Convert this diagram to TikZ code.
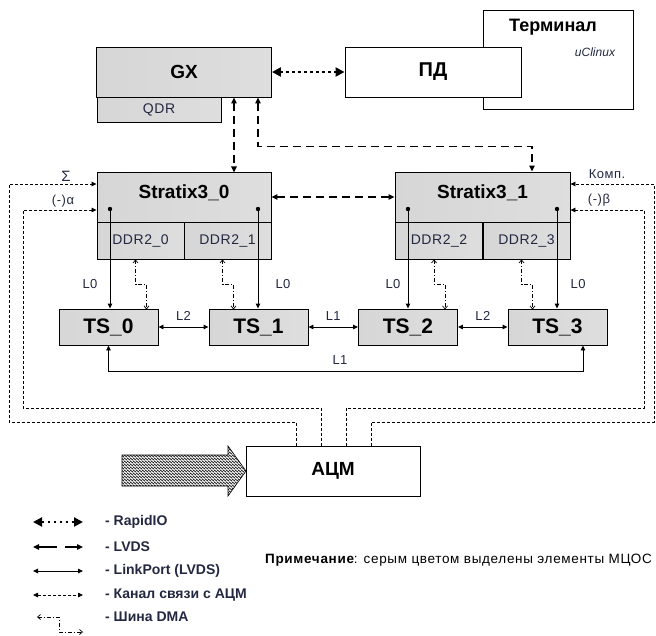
\documentclass[tikz,border=0pt]{standalone}
\usepackage{fontspec}
\setmainfont{Liberation Sans}
\newfontfamily\lblfont[LetterSpace=4]{Liberation Sans}
\newfontfamily\notefont[LetterSpace=5]{Liberation Sans}
\usetikzlibrary{arrows.meta,decorations.pathmorphing}
\definecolor{ink}{RGB}{35,40,65}
\tikzset{
  unit/.style={draw,line width=0.9pt,left color=gray!32,middle color=gray!10,right color=gray!26,
    inner sep=0pt,font=\fontsize{19}{19}\selectfont\bfseries},
  mem/.style={unit,font=\lblfont\fontsize{14}{14}\selectfont,text=ink},
  tsbox/.style={unit,minimum width=99pt,minimum height=36pt,font=\fontsize{21}{21}\selectfont\bfseries},
  wbox/.style={draw,line width=0.9pt,fill=white,inner sep=0pt},
  lbl/.style={font=\lblfont\fontsize{13}{13}\selectfont,text=ink,inner sep=1pt},
  lgd/.style={anchor=west,font=\fontsize{14}{14}\selectfont\bfseries,text=ink,inner sep=0pt},
  link/.style={line width=0.9pt,arrows={-Triangle[length=5pt,width=4.5pt]}},
  linkb/.style={line width=0.9pt,arrows={Triangle[length=5pt,width=4.5pt]-Triangle[length=5pt,width=4.5pt]}},
  rapid/.style={line width=2.4pt,dash pattern=on 2.4pt off 3.6pt,
    arrows={Triangle[length=9pt,width=9pt]-Triangle[length=9pt,width=9pt]}},
  lvds/.style={line width=1.3pt,dash pattern=on 8pt off 5pt,
    arrows={Triangle[length=6pt,width=5.5pt]-Triangle[length=6pt,width=5.5pt]}},
  adc/.style={line width=0.8pt,dash pattern=on 3pt off 2pt,arrows={-Triangle[length=5pt,width=4.5pt]}},
  dma/.style={line width=0.7pt,dash pattern=on 4pt off 2pt on 1pt off 2pt,
    arrows={Straight Barb[length=3pt,width=5pt]-Straight Barb[length=3pt,width=5pt]}}
}
\begin{document}
\begin{tikzpicture}[x=1pt,y=-1pt]
\path[use as bounding box] (0,0) rectangle (656,635);
% top row
\node[wbox,minimum width=150pt,minimum height=99pt] (term) at (558,59.5) {};
\node[font=\fontsize{18}{18}\selectfont\bfseries] (termt) at (553,27) {Терминал};
\node[font=\fontsize{12}{12}\selectfont\itshape,text=ink] (ucl) at (595,52) {uClinux};
\node[unit,minimum width=175pt,minimum height=50pt] (gx) at (184,72) {GX};
\node[mem,minimum width=124pt,minimum height=25pt] (qdr) at (159,109.5) {QDR};
\node[wbox,minimum width=176pt,minimum height=50pt,font=\fontsize{20}{20}\selectfont\bfseries] (pd) at (433,72) {ПД};
\draw[rapid] (gx) -- (pd);
% Stratix blocks
\node[unit,minimum width=174pt,minimum height=50pt,text depth=10pt] (sx0) at (184,197) {Stratix3\_0};
\node[unit,minimum width=175pt,minimum height=50pt,text depth=10pt] (sx1) at (482.5,197) {Stratix3\_1};
\foreach \i/\x in {0/140.5,1/227.5,2/439,3/526.5}
  \node[mem,minimum width=87pt,minimum height=37pt] (ddr\i) at (\x,240.5) {DDR2\_\i};
\draw[lvds] ([xshift=50pt]gx.south) -- ++(0,75);
\draw[lvds] ([xshift=74pt]gx.south) -- ++(0,49) -| ([xshift=49.5pt]sx1.north);
\draw[lvds] (sx0) -- (sx1);
% TS row
\foreach \i/\x in {0/108.5,1/258.5,2/408,3/557.5}
  \node[tsbox] (ts\i) at (\x,327) {TS\_\i};
\foreach \i/\x in {0/110,1/258,2/408,3/557} {
  \coordinate (p\i) at (\x,209);
  \fill (p\i) circle (2.2pt);
  \draw[link] (p\i) -- (p\i |- ts\i.north);
  \draw[dma] ([xshift=-5pt]ddr\i.south) -- ++(0,25) -- ++(11,0) -- ++(0,25);
}
\node[lbl] (l00) at (90,284) {L0};
\node[lbl] (l01) at (283,284) {L0};
\node[lbl] (l02) at (393,284) {L0};
\node[lbl] (l03) at (578,284) {L0};
\draw[linkb] (ts0) -- node[lbl,above=5pt] (l2a) {L2} (ts1);
\draw[linkb] (ts1) -- node[lbl,above=5pt] (l1a) {L1} (ts2);
\draw[linkb] (ts2) -- node[lbl,above=5pt] (l2b) {L2} (ts3);
\draw[linkb] (ts0.south) -- ++(0,26) -| ([xshift=25.5pt]ts3.south);
\node[lbl] (l1b) at (340,360) {L1};
% ADC
\begin{scope}
  \path[clip] (122,455) -- (228,455) -- (228,446) -- (246,471) -- (228,496) -- (228,486) -- (122,486) -- cycle;
  \foreach \yy in {444,447,...,499}
    \draw[decorate,decoration={zigzag,segment length=3pt,amplitude=1.1pt},line width=0.5pt] (118,\yy) -- (250,\yy);
\end{scope}
\draw[line width=0.6pt] (122,455) -- (228,455) -- (228,446) -- (246,471) -- (228,496) -- (228,486) -- (122,486) -- cycle;
\node[wbox,minimum width=174pt,minimum height=50pt,font=\fontsize{19}{19}\selectfont\bfseries] (acm) at (333,471) {АЦМ};
\draw[adc] ([xshift=-37pt]acm.north) |- (9,422) |- ([yshift=13pt]sx0.west);
\draw[adc] ([xshift=-12pt]acm.north) |- (23,408) |- ([yshift=-13pt]sx0.west);
\draw[adc] ([xshift=13pt]acm.north) |- (644,408) |- ([yshift=-13pt]sx1.east);
\draw[adc] ([xshift=38pt]acm.north) |- (654,422) |- ([yshift=13pt]sx1.east);
\node[lbl,font=\fontsize{15}{15}\selectfont] (sig) at (66,176) {Σ};
\node[lbl] (alp) at (63,201) {(-)α};
\node[lbl] (komp) at (607,174) {Комп.};
\node[lbl] (bet) at (599,200) {(-)β};
% legend
\node[lgd] (lg1) at (105,522) {- RapidIO};
\node[lgd] (lg2) at (105,547) {- LVDS};
\node[lgd] (lg3) at (105,571) {- LinkPort (LVDS)};
\node[lgd] (lg4) at (105,595) {- Канал связи с АЦМ};
\node[lgd] (lg5) at (105,617) {- Шина DMA};
\draw[rapid,line width=2pt] ([xshift=-72pt]lg1.west) -- ([xshift=-22pt]lg1.west);
\draw[lvds,dash pattern=on 18pt off 8pt] ([xshift=-72pt]lg2.west) -- ([xshift=-22pt]lg2.west);
\draw[linkb] ([xshift=-72pt]lg3.west) -- ([xshift=-22pt]lg3.west);
\draw[adc,arrows={Triangle[length=5pt,width=4.5pt]-Triangle[length=5pt,width=4.5pt]}] ([xshift=-72pt]lg4.west) -- ([xshift=-22pt]lg4.west);
\draw[dma] ([xshift=-68pt]lg5.west) -| ++(22,15) -- ++(24,0);
\node[anchor=west,inner sep=0pt,font=\notefont\fontsize{13.5}{13.5}\selectfont] (note) at (265,560)
  {{\bfseries Примечание}: серым цветом выделены элементы МЦОС};
\end{tikzpicture}
\end{document}
